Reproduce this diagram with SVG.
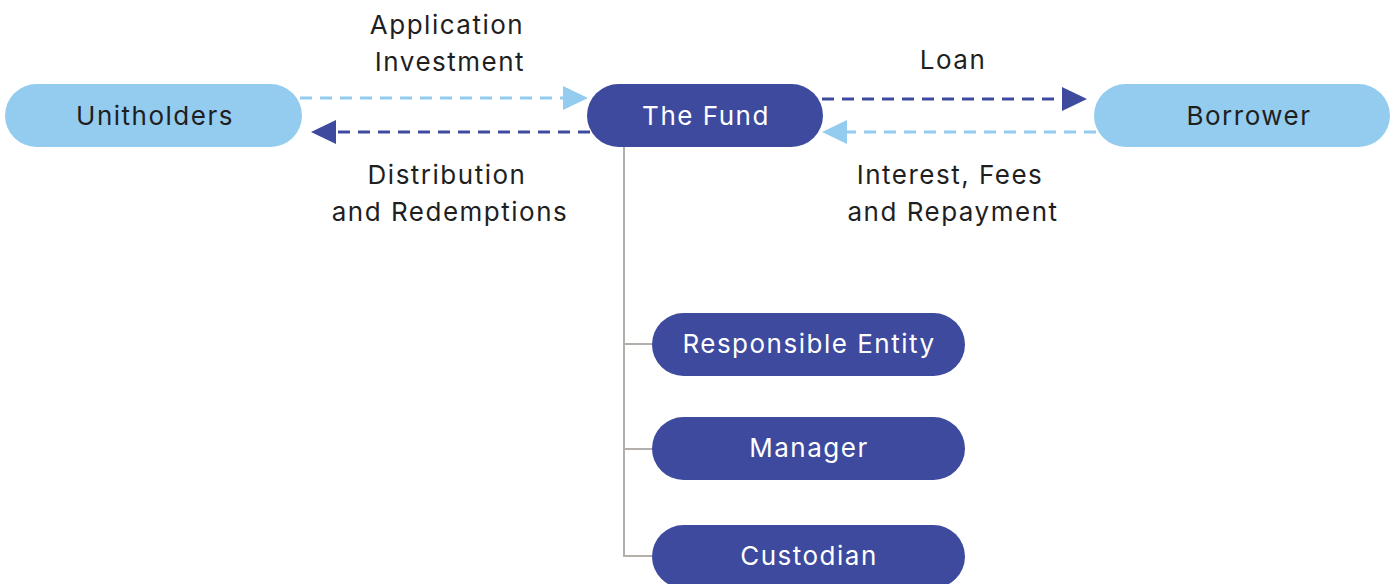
<svg xmlns="http://www.w3.org/2000/svg" width="1395" height="584" viewBox="0 0 1395 584">
<style>
.dark{fill:#3d4a9e}
.light{fill:#94ccef}
.t{font-family:Inter,"Liberation Sans",sans-serif;font-size:26px;letter-spacing:1.5px;text-anchor:middle;fill:#1f1f1f}
.w{fill:#ffffff}
.dd{stroke:#3d4a9e;stroke-width:3;stroke-dasharray:12 8;fill:none}
.dl{stroke:#94ccef;stroke-width:3;stroke-dasharray:12 8;fill:none}
.tree{stroke:#b3afaa;stroke-width:2;fill:none}
</style>
<rect width="1395" height="584" fill="#ffffff"/>
<g id="connectors">
<path class="dl" d="M300 98 H566"/>
<polygon class="light" points="563,86 588,98 563,110"/>
<path class="dd" d="M590 132 H334"/>
<polygon class="dark" points="336,120 311,132 336,144"/>
<path class="dd" d="M822 99 H1064"/>
<polygon class="dark" points="1062,87 1087,99 1062,111"/>
<path class="dl" d="M1096 132 H844"/>
<polygon class="light" points="847,120 822,132 847,144"/>
<path class="tree" d="M624 147 V556 H652 M624 344 H652 M624 449 H652"/>
</g>
<g id="labels">
<text class="t" x="447" y="34">Application</text>
<text class="t" x="450" y="71">Investment</text>
<text class="t" x="953" y="69">Loan</text>
<text class="t" x="447" y="184">Distribution</text>
<text class="t" x="450" y="221">and Redemptions</text>
<text class="t" x="950" y="184">Interest, Fees</text>
<text class="t" x="953" y="221">and Repayment</text>
</g>
<g id="unitholders">
<rect class="light" x="5" y="84" width="297" height="63" rx="31.5"/>
<text class="t" x="155" y="125">Unitholders</text>
</g>
<g id="fund">
<rect class="dark" x="587" y="84" width="236" height="63" rx="31.5"/>
<text class="t w" x="706" y="125">The Fund</text>
</g>
<g id="borrower">
<rect class="light" x="1094" y="84" width="296" height="63" rx="31.5"/>
<text class="t" x="1249" y="125">Borrower</text>
</g>
<g id="responsible-entity">
<rect class="dark" x="652" y="313" width="313" height="63" rx="31.5"/>
<text class="t w" x="809" y="353">Responsible Entity</text>
</g>
<g id="manager">
<rect class="dark" x="652" y="417" width="313" height="63" rx="31.5"/>
<text class="t w" x="809" y="457">Manager</text>
</g>
<g id="custodian">
<rect class="dark" x="652" y="525" width="313" height="63" rx="31.5"/>
<text class="t w" x="809" y="565">Custodian</text>
</g>
</svg>
